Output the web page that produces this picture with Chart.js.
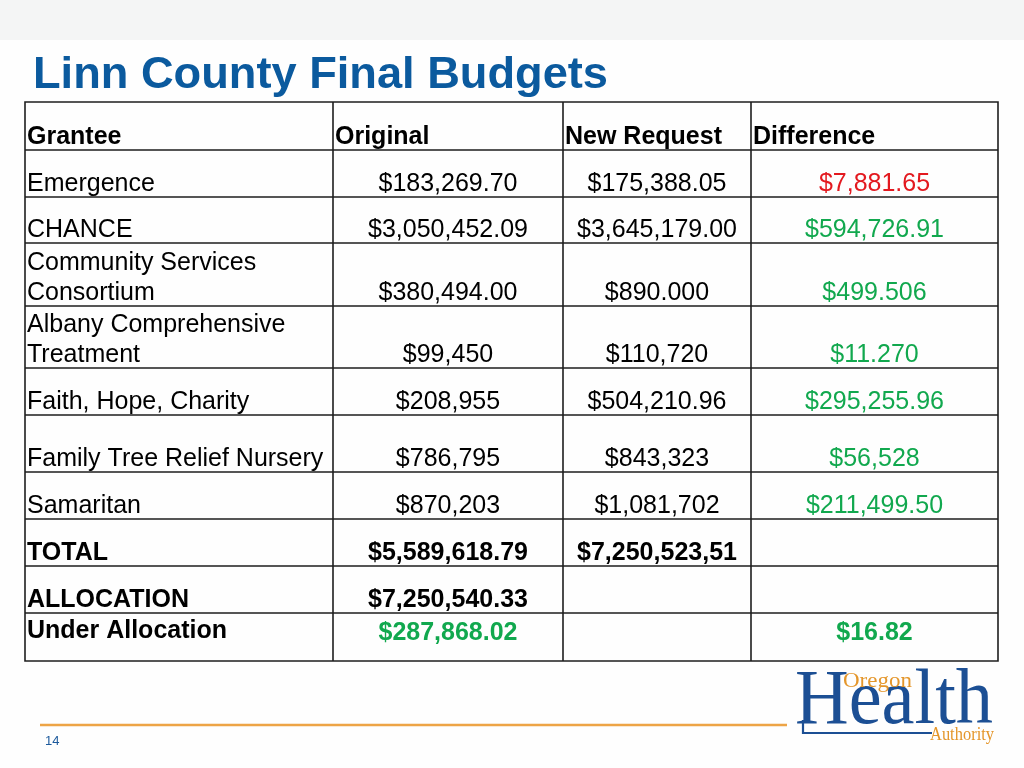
<!DOCTYPE html>
<html>
<head>
<meta charset="utf-8">
<script src="https://cdn.jsdelivr.net/npm/chart.js@4.4.1/dist/chart.umd.min.js"></script>
<style>
  html, body { margin: 0; padding: 0; background: #fefefe; }
  #wrap { width: 1024px; height: 768px; }
  canvas { display: block; }
</style>
</head>
<body>
<div id="wrap"><canvas id="c" width="1024" height="768"></canvas></div>
<script>
// ---------- DATA ----------
const title = "Linn County Final Budgets";
const headers = ["Grantee", "Original", "New Request", "Difference"];
const grantees = [
  "Emergence",
  "CHANCE",
  "Community Services\nConsortium",
  "Albany Comprehensive\nTreatment",
  "Faith, Hope, Charity",
  "Family Tree Relief Nursery",
  "Samaritan"
];
const original = ["$183,269.70", "$3,050,452.09", "$380,494.00", "$99,450", "$208,955", "$786,795", "$870,203"];
const newRequest = ["$175,388.05", "$3,645,179.00", "$890.000", "$110,720", "$504,210.96", "$843,323", "$1,081,702"];
const difference = ["$7,881.65", "$594,726.91", "$499.506", "$11.270", "$295,255.96", "$56,528", "$211,499.50"];
const totalRow = ["TOTAL", "$5,589,618.79", "$7,250,523,51", ""];
const allocationRow = ["ALLOCATION", "$7,250,540.33", "", ""];
const underRow = ["Under Allocation", "$287,868.02", "", "$16.82"];
const pageNumber = "14";

// ---------- STYLE / LAYOUT (kept apart from data) ----------
const RED = "#e3191f", GREEN = "#11a84e", BLUE = "#0b5a9e";
const diffColors = [RED, GREEN, GREEN, GREEN, GREEN, GREEN, GREEN];
const underColors = ["#000", GREEN, "#000", GREEN];
const colEdges = [25, 333, 563, 751, 998];
const rowEdges = [102, 150, 197, 243, 306, 368, 415, 472, 519, 566, 613, 661];
const FONT = '"Liberation Sans", Arial, Helvetica, sans-serif';
const SERIF = '"Liberation Serif", "Times New Roman", serif';

const tablePlugin = {
  id: 'tablePlugin',
  beforeDraw(chart) {
    const ctx = chart.ctx, xs = chart.scales.x, ys = chart.scales.y;
    const X = v => xs.getPixelForValue(v), Y = v => ys.getPixelForValue(v);
    ctx.save();
    ctx.fillStyle = '#fefefe';
    ctx.fillRect(X(0), Y(0), X(1024) - X(0), Y(768) - Y(0));
    ctx.fillStyle = '#f4f5f5';
    ctx.fillRect(X(0), Y(0), X(1024) - X(0), Y(40) - Y(0));
    ctx.restore();
  },
  afterDraw(chart) {
    const ctx = chart.ctx, xs = chart.scales.x, ys = chart.scales.y;
    const X = v => xs.getPixelForValue(v), Y = v => ys.getPixelForValue(v);
    ctx.save();

    // Title
    ctx.fillStyle = BLUE;
    ctx.font = 'bold 45px ' + FONT;
    ctx.textBaseline = 'alphabetic';
    ctx.textAlign = 'left';
    fitText(ctx, title, X(33), Y(88), 575);

    // Grid
    ctx.strokeStyle = '#1e1e1e';
    ctx.lineWidth = 1.6;
    ctx.beginPath();
    rowEdges.forEach(r => { ctx.moveTo(X(colEdges[0]) - 0.8, Y(r)); ctx.lineTo(X(colEdges[4]) + 0.8, Y(r)); });
    colEdges.forEach(c => { ctx.moveTo(X(c), Y(rowEdges[0])); ctx.lineTo(X(c), Y(rowEdges[rowEdges.length - 1])); });
    ctx.stroke();

    const colCenter = i => (X(colEdges[i]) + X(colEdges[i + 1])) / 2;
    const drawCell = (text, col, baseline, bold, color, align) => {
      if (!text) return;
      ctx.font = (bold ? 'bold ' : '') + '25px ' + FONT;
      ctx.fillStyle = color;
      const lines = text.split('\n');
      lines.forEach((ln, k) => {
        const by = baseline - (lines.length - 1 - k) * 30.5;
        if (align === 'left') { ctx.textAlign = 'left'; ctx.fillText(ln, X(colEdges[col]) + 2, by); }
        else { ctx.textAlign = 'center'; ctx.fillText(ln, colCenter(col), by); }
      });
    };

    // Header
    headers.forEach((h, i) => drawCell(h, i, Y(rowEdges[1]) - 6, true, '#000', 'left'));

    // Body rows
    grantees.forEach((g, r) => {
      const base = Y(rowEdges[r + 2]) - 6;
      drawCell(g, 0, base, false, '#000', 'left');
      drawCell(original[r], 1, base, false, '#000', 'center');
      drawCell(newRequest[r], 2, base, false, '#000', 'center');
      drawCell(difference[r], 3, base, false, diffColors[r], 'center');
    });

    // Totals
    const tBase = Y(rowEdges[9]) - 6;
    totalRow.forEach((t, i) => drawCell(t, i, tBase, true, '#000', i === 0 ? 'left' : 'center'));
    const aBase = Y(rowEdges[10]) - 6;
    allocationRow.forEach((t, i) => drawCell(t, i, aBase, true, '#000', i === 0 ? 'left' : 'center'));
    underRow.forEach((t, i) => drawCell(t, i, Y(rowEdges[10]) + (i === 0 ? 25 : 27), true, underColors[i], i === 0 ? 'left' : 'center'));

    // Footer line & page number
    ctx.strokeStyle = '#eda446';
    ctx.lineWidth = 2.5;
    ctx.beginPath();
    ctx.moveTo(X(40), Y(725)); ctx.lineTo(X(787), Y(725));
    ctx.stroke();
    ctx.fillStyle = '#1d5a9c';
    ctx.font = '13px ' + FONT;
    ctx.textAlign = 'left';
    ctx.fillText(pageNumber, X(45), Y(745));

    // Logo
    ctx.fillStyle = '#1c4f94';
    ctx.font = '78px ' + SERIF;
    ctx.textAlign = 'left';
    fitText(ctx, 'Health', X(795), Y(723), 198);
    ctx.strokeStyle = '#1c4f94';
    ctx.lineWidth = 2.2;
    ctx.beginPath();
    ctx.moveTo(X(803), Y(720)); ctx.lineTo(X(803), Y(733)); ctx.lineTo(X(932), Y(733));
    ctx.stroke();
    ctx.fillStyle = '#e4962b';
    ctx.font = '22px ' + SERIF;
    fitText(ctx, 'Oregon', X(843), Y(687), 69);
    ctx.font = '18px ' + SERIF;
    fitText(ctx, 'Authority', X(930), Y(740), 64);

    ctx.restore();
  }
};

function fitText(ctx, text, x, y, width) {
  const w = ctx.measureText(text).width;
  const s = width / w;
  ctx.save();
  ctx.translate(x, y);
  ctx.scale(s, 1);
  ctx.fillText(text, 0, 0);
  ctx.restore();
}

new Chart(document.getElementById('c'), {
  type: 'scatter',
  data: { datasets: [{ data: [], pointRadius: 0 }] },
  options: {
    responsive: false,
    animation: false,
    devicePixelRatio: 1,
    layout: { padding: 0 },
    plugins: { legend: { display: false }, tooltip: { enabled: false }, title: { display: false } },
    scales: {
      x: { type: 'linear', display: false, min: 0, max: 1024 },
      y: { type: 'linear', display: false, min: 0, max: 768, reverse: true }
    }
  },
  plugins: [tablePlugin]
});
</script>
</body>
</html>
